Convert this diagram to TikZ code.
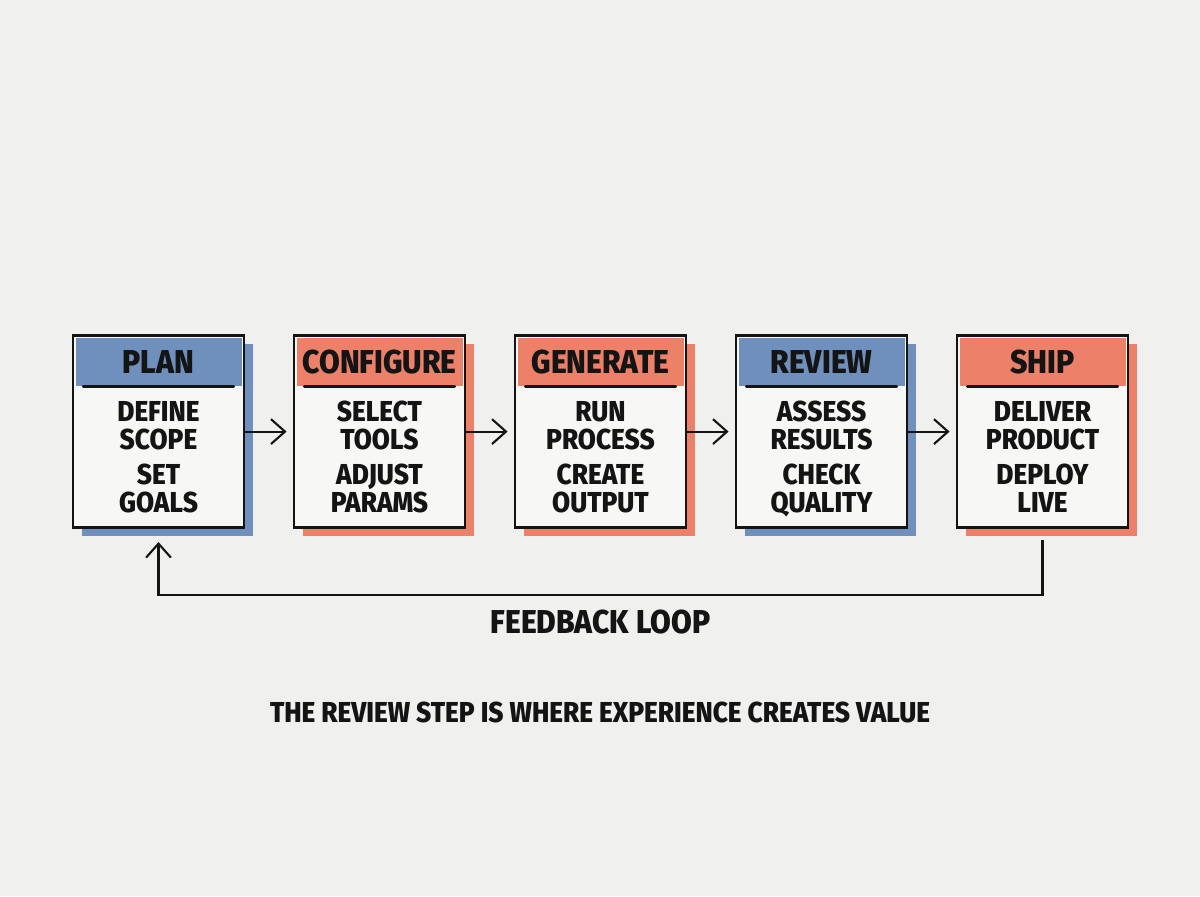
\documentclass[tikz,border=0pt]{standalone}
\usepackage{fontspec}
\setmainfont{Fira Sans}[FakeStretch=0.91, BoldFont={Fira Sans ExtraBold}]
\usetikzlibrary{arrows.meta,positioning,shadows}
\definecolor{cBlue}{HTML}{6F8FBD}
\definecolor{cSalmon}{HTML}{EC8068}
\definecolor{cLine}{HTML}{141414}
\definecolor{cPaper}{HTML}{F0F0EE}
\definecolor{cCard}{HTML}{F7F7F5}
\tikzset{
  card/.style  = {rectangle, draw=cLine, line width=2pt, fill=cCard,
                  minimum width=4.275cm, minimum height=4.8cm},
  cardb/.style = {card, drop shadow={fill=cBlue, opacity=1,
                  shadow xshift=2.2mm, shadow yshift=-2mm}},
  cardr/.style = {card, drop shadow={fill=cSalmon, opacity=1,
                  shadow xshift=2.2mm, shadow yshift=-2mm}},
  hd/.style    = {rectangle, minimum width=4.15cm, minimum height=1.2cm,
                  inner sep=0pt, text=cLine,
                  font=\fontsize{23.5}{26}\selectfont\bfseries},
  hdb/.style   = {hd, fill=cBlue},
  hdr/.style   = {hd, fill=cSalmon},
  sep/.style   = {draw=cLine, line width=2pt, line cap=round},
  txt/.style   = {align=center, inner sep=0pt, text=cLine, text depth=0pt,
                  font=\fontsize{20.5}{20}\selectfont\bfseries},
  fl/.style    = {-{Straight Barb[length=3.5mm, width=6.2mm]}, draw=cLine, line width=1.5pt},
  loopl/.style = {font=\fontsize{23.5}{26}\selectfont\bfseries, text=cLine, inner sep=0pt},
  notel/.style = {font=\fontsize{20.5}{24}\selectfont\bfseries, text=cLine, inner sep=0pt},
}
\begin{document}
\begin{tikzpicture}
  \fill[cPaper] (0,0) rectangle (30,22.4);
  \useasboundingbox (0,0) rectangle (30,22.4);

  \node[cardb] (plan)      at (3.9625,11.61)  {};
  \node[cardr] (configure) at (9.4875,11.61)  {};
  \node[cardr] (generate)  at (15.0125,11.61) {};
  \node[cardb] (review)    at (20.5375,11.61) {};
  \node[cardr] (ship)      at (26.0625,11.61) {};

  \node[hdb, below=1mm of plan.north]      (planhd) {PLAN};
  \node[hdr, below=1mm of configure.north] (confhd) {CONFIGURE};
  \node[hdr, below=1mm of generate.north]  (genhd)  {GENERATE};
  \node[hdb, below=1mm of review.north]    (revhd)  {REVIEW};
  \node[hdr, below=1mm of ship.north]      (shiphd) {SHIP};

  \draw[sep] ([xshift=2mm]planhd.south west) -- ([xshift=-2mm]planhd.south east);
  \draw[sep] ([xshift=2mm]confhd.south west) -- ([xshift=-2mm]confhd.south east);
  \draw[sep] ([xshift=2mm]genhd.south west)  -- ([xshift=-2mm]genhd.south east);
  \draw[sep] ([xshift=2mm]revhd.south west)  -- ([xshift=-2mm]revhd.south east);
  \draw[sep] ([xshift=2mm]shiphd.south west) -- ([xshift=-2mm]shiphd.south east);

  \node[txt] (plantx) at (3.9625,10.975)  {DEFINE\\SCOPE\\[5pt]SET\\GOALS};
  \node[txt] (conftx) at (9.4875,10.975)  {SELECT\\TOOLS\\[5pt]ADJUST\\PARAMS};
  \node[txt] (gentx)  at (15.0125,10.975) {RUN\\PROCESS\\[5pt]CREATE\\OUTPUT};
  \node[txt] (revtx)  at (20.5375,10.975) {ASSESS\\RESULTS\\[5pt]CHECK\\QUALITY};
  \node[txt] (shiptx) at (26.0625,10.975) {DELIVER\\PRODUCT\\[5pt]DEPLOY\\LIVE};

  \draw[fl] (plan.east)      -- ([xshift=-1.5mm]configure.west);
  \draw[fl] (configure.east) -- ([xshift=-1.5mm]generate.west);
  \draw[fl] (generate.east)  -- ([xshift=-1.5mm]review.west);
  \draw[fl] (review.east)    -- ([xshift=-1.5mm]ship.west);
  \draw[fl] ([yshift=-2.75mm]ship.south) -- ++(0,-1.375)
    -| node[loopl, pos=0.25, below=3.5mm] (looplab) {FEEDBACK LOOP} ([yshift=-3.25mm]plan.south);

  \node[notel] (note) at (15.0,4.6) {THE REVIEW STEP IS WHERE EXPERIENCE CREATES VALUE};
\end{tikzpicture}
\end{document}
